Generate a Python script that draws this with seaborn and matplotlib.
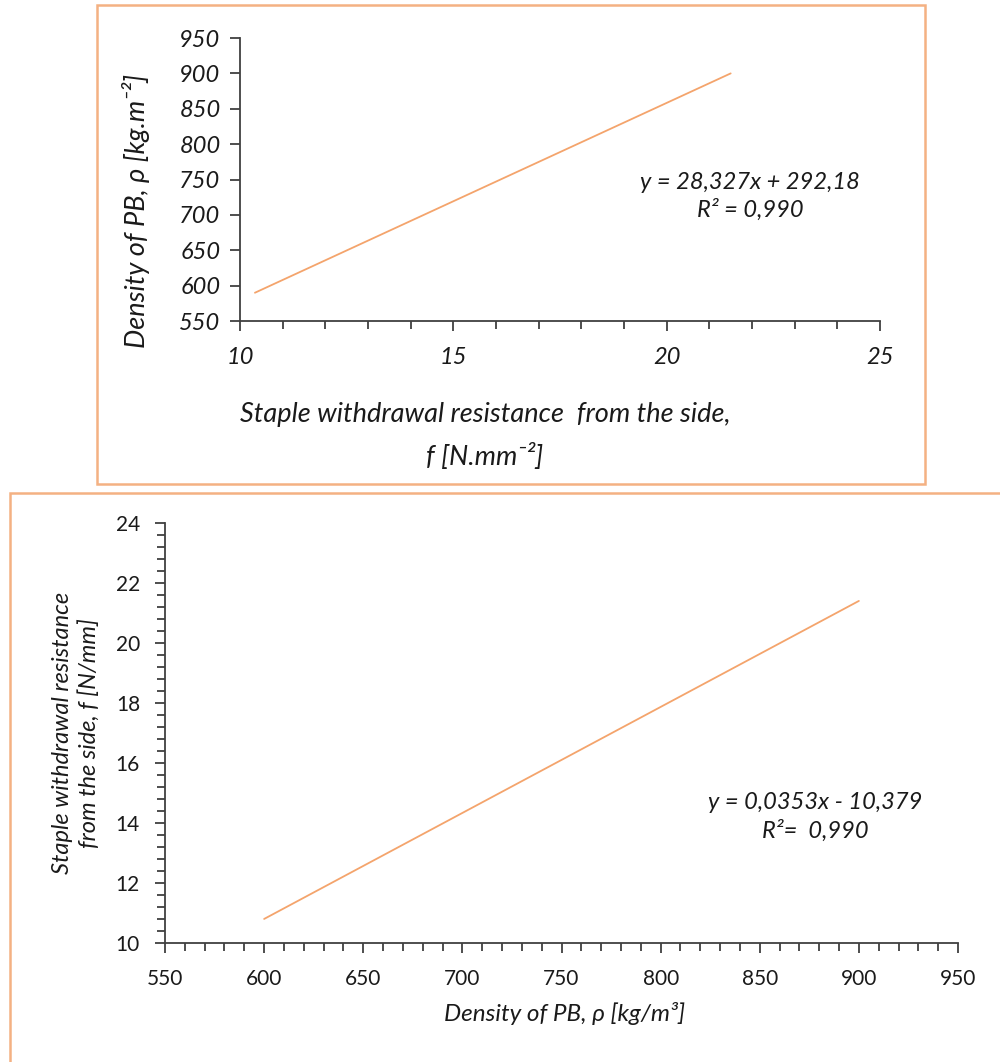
import pandas as pd
import seaborn as sns
import matplotlib.pyplot as plt
from matplotlib.patches import Rectangle
from matplotlib.ticker import MultipleLocator

# fitted lines
top_x = [10.35, 21.5]          # staple withdrawal resistance
top_y = [590, 900]             # density
top_eq = "y = 28,327x + 292,18\nR² = 0,990"

bottom_x = [600, 900]          # density
bottom_y = [10.8, 21.4]        # staple withdrawal resistance
bottom_eq = "y = 0,0353x - 10,379\nR²=  0,990"

line_color = "#F4A46C"
box_color = "#F4B183"
axis_color = "#404040"
text_color = "#1a1a1a"

sns.set_theme(style="ticks")
plt.rcParams['font.family'] = ['Lato', 'DejaVu Sans']

fig = plt.figure(figsize=(10, 10.62), dpi=100)

# orange frames around each chart
fig.patches.append(Rectangle((0.097, 0.5443), 0.828, 0.451, transform=fig.transFigure,
                             fill=False, edgecolor=box_color, linewidth=1.8))
fig.patches.append(Rectangle((0.010, -0.01), 1.0, 0.5458, transform=fig.transFigure,
                             fill=False, edgecolor=box_color, linewidth=1.8))

# ---- top panel ----
ax1 = fig.add_axes([0.240, 0.6977, 0.640, 0.2665])
df1 = pd.DataFrame({"f": top_x, "rho": top_y})
sns.lineplot(data=df1, x="f", y="rho", ax=ax1, color=line_color, linewidth=1.3)
ax1.set_xlim(10, 25)
ax1.set_ylim(550, 950)
ax1.xaxis.set_major_locator(MultipleLocator(5))
ax1.xaxis.set_minor_locator(MultipleLocator(1))
ax1.yaxis.set_major_locator(MultipleLocator(50))
sns.despine(ax=ax1)
ax1.tick_params(which="major", length=7, width=1.3, color=axis_color, labelsize=17, pad=7)
ax1.tick_params(axis="x", which="major", pad=12)
ax1.tick_params(axis="x", which="minor", length=6, width=1.3, color=axis_color)
for lab in ax1.get_xticklabels() + ax1.get_yticklabels():
    lab.set_fontstyle("italic")
    lab.set_color(text_color)
ax1.set_xlabel("Staple withdrawal resistance  from the side,\nf [N.mm⁻²]",
               fontsize=19.5, fontstyle="italic", linespacing=1.75, color=text_color)
ax1.xaxis.set_label_coords(0.383, -0.285)
ax1.set_ylabel("Density of PB, ρ [kg.m⁻²]", fontsize=19.5, fontstyle="italic", color=text_color)
ax1.yaxis.set_label_coords(-0.14, 0.39)
ax1.text(0.797, 0.44, top_eq, transform=ax1.transAxes, ha="center", va="center",
         fontsize=17, fontstyle="italic", linespacing=1.3, color=text_color)

# ---- bottom panel ----
ax2 = fig.add_axes([0.165, 0.1121, 0.793, 0.3955])
df2 = pd.DataFrame({"rho": bottom_x, "f": bottom_y})
sns.lineplot(data=df2, x="rho", y="f", ax=ax2, color=line_color, linewidth=1.3)
ax2.set_xlim(550, 950)
ax2.set_ylim(10, 24)
ax2.xaxis.set_major_locator(MultipleLocator(50))
ax2.xaxis.set_minor_locator(MultipleLocator(10))
ax2.yaxis.set_major_locator(MultipleLocator(2))
ax2.yaxis.set_minor_locator(MultipleLocator(0.4))
sns.despine(ax=ax2)
ax2.tick_params(which="major", length=7, width=1.3, color=axis_color, labelsize=15, pad=11)
ax2.tick_params(axis="x", which="major", pad=12)
ax2.tick_params(which="minor", length=6, width=1.3, color=axis_color)
for lab in ax2.get_xticklabels() + ax2.get_yticklabels():
    lab.set_color(text_color)
ax2.set_xlabel("Density of PB, ρ [kg/m³]", fontsize=17.5, fontstyle="italic", color=text_color)
ax2.xaxis.set_label_coords(0.504, -0.14)
ax2.set_ylabel("Staple withdrawal resistance\nfrom the side, f [N/mm]", fontsize=17,
               fontstyle="italic", linespacing=1.3, color=text_color)
ax2.yaxis.set_label_coords(-0.082, 0.5)
ax2.text(0.82, 0.30, bottom_eq, transform=ax2.transAxes, ha="center", va="center",
         fontsize=17, fontstyle="italic", linespacing=1.35, color=text_color)

for ax in (ax1, ax2):
    for side in ("left", "bottom"):
        ax.spines[side].set_color(axis_color)
        ax.spines[side].set_linewidth(1.3)
    ax.set_facecolor("white")

fig.savefig("out.png", dpi=100, facecolor="white")
